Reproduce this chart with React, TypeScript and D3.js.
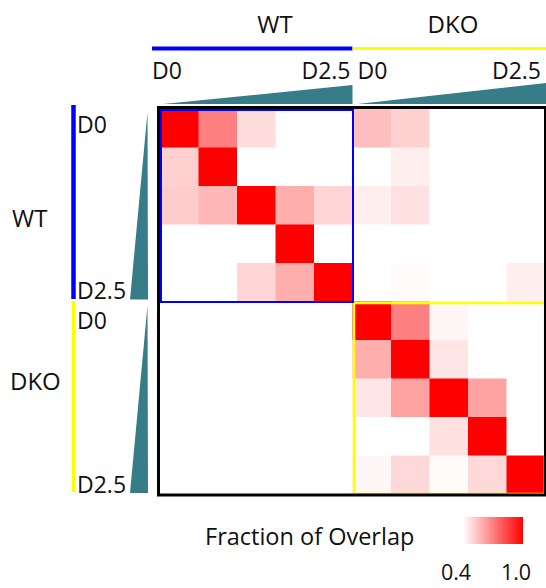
import * as d3 from "d3";

// sample order along both axes: WT D0..D2.5 then DKO D0..D2.5
const samples = ["WT-1", "WT-2", "WT-3", "WT-4", "WT-5", "DKO-1", "DKO-2", "DKO-3", "DKO-4", "DKO-5"];
const groups = ["WT", "DKO"];
const groupColors = ["#0000ff", "#ffff00"];
const timeLabels = ["D0", "D2.5"];

// fraction of overlap (0 = below colour range)
const overlap = [
  [1.0, 0.7, 0.48, 0, 0, 0.55, 0.51, 0, 0, 0],
  [0.51, 1.0, 0, 0, 0, 0, 0.44, 0, 0, 0],
  [0.52, 0.57, 1.0, 0.59, 0.5, 0.44, 0.47, 0, 0, 0],
  [0, 0, 0, 1.0, 0, 0, 0, 0, 0, 0],
  [0, 0, 0.5, 0.59, 1.0, 0, 0.41, 0, 0, 0.44],
  [0, 0, 0, 0, 0, 1.0, 0.7, 0.42, 0, 0],
  [0, 0, 0, 0, 0, 0.59, 1.0, 0.46, 0, 0],
  [0, 0, 0, 0, 0, 0.46, 0.62, 1.0, 0.62, 0],
  [0, 0, 0, 0, 0, 0, 0, 0.47, 1.0, 0],
  [0, 0, 0, 0, 0, 0.42, 0.49, 0.41, 0.49, 1.0],
];
const legendTicks = [0.4, 1.0];

const W = 546;
const H = 588;
const font = "'Open Sans', sans-serif";
const teal = "#377c89";

export default function App() {
  const x = d3.scaleBand<string>().domain(samples).range([160, 545]);
  const y = d3.scaleBand<string>().domain(samples).range([109, 494]);
  const color = d3
    .scaleLinear<string>()
    .domain([0.4, 1])
    .range(["#ffffff", "#ff0000"])
    .clamp(true);

  const cells = overlap.flatMap((row, i) =>
    row.map((v, j) => ({ r: samples[i], c: samples[j], v }))
  );

  const groupSamples = groups.map((g) => samples.filter((s) => s.startsWith(g + "-")));
  const blockX = groupSamples.map((s) => [x(s[0])!, x(s[s.length - 1])! + x.bandwidth()]);
  const blockY = groupSamples.map((s) => [y(s[0])!, y(s[s.length - 1])! + y.bandwidth()]);

  // header bars above the matrix
  const topBar = [
    [152, blockX[0][1]],
    [blockX[0][1], W],
  ];
  const topTitleX = [275, 453];
  const leftTitleY = [227, 390];
  const leftBar = [
    [105, 299],
    [301, 492],
  ];
  const leftLabelY = [
    [133, 299],
    [329, 493],
  ];

  const legendX = d3.scaleLinear().domain([0.4, 1]).range([463, 523]);

  return (
    <svg width={W} height={H} style={{ position: "absolute", left: 0, top: 0 }} fontFamily={font}>
      <defs>
        <linearGradient id="lg" x1="0" x2="1" y1="0" y2="0">
          <stop offset="0%" stopColor={color(0.4)} />
          <stop offset="100%" stopColor={color(1)} />
        </linearGradient>
      </defs>
      <rect width={W} height={H} fill="#fff" />

      {/* top headers */}
      {groups.map((g, i) => (
        <g key={"top" + g}>
          <text x={topTitleX[i]} y={33} fontSize={24} textAnchor="middle" fill="#111">
            {g}
          </text>
          <line
            x1={topBar[i][0]}
            x2={topBar[i][1]}
            y1={48.5}
            y2={48.5}
            stroke={groupColors[i]}
            strokeWidth={i === 0 ? 4 : 3}
          />
          <text
            x={i === 0 ? 152 : blockX[1][0] + 5}
            y={79}
            fontSize={23}
            fill="#111"
          >
            {timeLabels[0]}
          </text>
          <text
            x={i === 0 ? blockX[0][1] - 2 : 541}
            y={79}
            fontSize={23}
            textAnchor="end"
            fill="#111"
          >
            {timeLabels[1]}
          </text>
          <path
            d={`M${blockX[i][0] + (i === 0 ? 3 : 5)},104 L${blockX[i][1] + (i === 0 ? 0 : 1)},${i === 0 ? 85 : 83} L${blockX[i][1] + (i === 0 ? 0 : 1)},104 Z`}
            fill={teal}
          />
        </g>
      ))}

      {/* left headers */}
      {groups.map((g, i) => (
        <g key={"left" + g}>
          <text x={i === 0 ? 12 : 10} y={leftTitleY[i]} fontSize={24} fill="#111">
            {g}
          </text>
          <line
            x1={73.5}
            x2={73.5}
            y1={leftBar[i][0]}
            y2={leftBar[i][1]}
            stroke={groupColors[i]}
            strokeWidth={i === 0 ? 4.5 : 3}
          />
          <text x={77} y={leftLabelY[i][0]} fontSize={23} fill="#111">
            {timeLabels[0]}
          </text>
          <text x={77} y={leftLabelY[i][1]} fontSize={23} fill="#111">
            {timeLabels[1]}
          </text>
          <path
            d={`M147.5,${blockY[i][0] + (i === 0 ? 3 : 4)} L130,${blockY[i][1] - (i === 0 ? 2 : 1)} L148,${blockY[i][1] - (i === 0 ? 2 : 1)} Z`}
            fill={teal}
          />
        </g>
      ))}

      {/* heatmap cells */}
      {cells.map((d) => (
        <rect
          key={d.r + d.c}
          x={x(d.c)}
          y={y(d.r)}
          width={x.bandwidth() + 0.5}
          height={y.bandwidth() + 0.5}
          fill={color(d.v)}
        />
      ))}

      {/* group boxes */}
      <rect
        x={blockX[1][0] + 1.5}
        y={blockY[1][0] + 1.5}
        width={blockX[1][1] - blockX[1][0] - 1.5}
        height={blockY[1][1] - blockY[1][0] - 1.5}
        fill="none"
        stroke={groupColors[1]}
        strokeWidth={2.5}
      />
      <rect
        x={158.5}
        y={107.5}
        width={387}
        height={387.5}
        fill="none"
        stroke="#000"
        strokeWidth={3}
      />
      <rect
        x={blockX[0][0] + 1}
        y={blockY[0][0] + 1}
        width={blockX[0][1] - blockX[0][0] - 0.5}
        height={blockY[0][1] - blockY[0][0] - 0.5}
        fill="none"
        stroke={groupColors[0]}
        strokeWidth={2}
      />

      {/* legend */}
      <text x={205} y={545} fontSize={23.5} fill="#111">
        Fraction of Overlap
      </text>
      <rect x={legendX(0.4)} y={517} width={legendX(1) - legendX(0.4)} height={27} fill="url(#lg)" />
      {legendTicks.map((t) => (
        <text key={t} x={legendX(t) - 7} y={580} fontSize={21.5} textAnchor="middle" fill="#111">
          {t.toFixed(1)}
        </text>
      ))}
    </svg>
  );
}
